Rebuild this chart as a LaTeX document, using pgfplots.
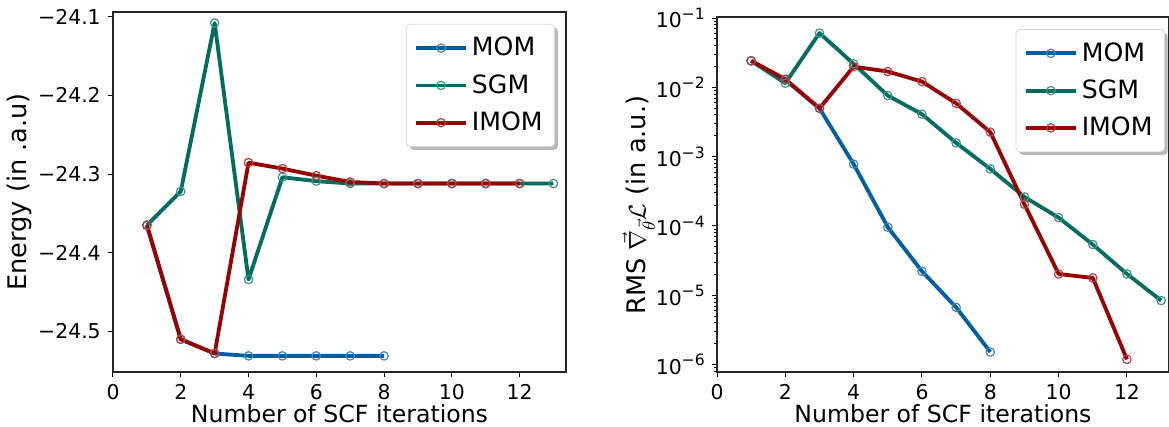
\documentclass[border=0pt]{standalone}
\usepackage{fontspec}
\setmainfont{DejaVu Sans}
\usepackage{pgfplots}
\pgfplotsset{compat=1.18}
\usetikzlibrary{shadows}
\makeatletter
\tikzset{no preactions/.code={\let\tikz@preactions\pgfutil@empty}}
\makeatother
\definecolor{cMOM}{RGB}{0,94,160}
\definecolor{cSGM}{RGB}{0,108,96}
\definecolor{cIMOM}{RGB}{150,0,0}
\newcommand{\tenpow}[1]{10\raisebox{0.42em}{\fontsize{7.8}{8}\selectfont #1}}
\pgfplotsset{
  common/.style={
    scale only axis,
    anchor=south west,
    /pgf/number format/assume math mode=true,
    tick align=outside,
    tick pos=left,
    major tick length=2.6pt,
    minor tick length=1.5pt,
    tick style={black, line width=0.5pt},
    axis line style={black!85, line width=0.6pt},
    ticklabel style={font=\fontsize{10.2}{12}\selectfont},
    xlabel={Number of SCF iterations},
    xtick={0,2,4,6,8,10,12},
    xmin=0,
    legend cell align=left,
    legend image code/.code={\draw[no preactions,mark repeat=2,mark phase=2,##1] plot coordinates {(0pt,0pt) (12.5pt,0pt) (25pt,0pt)};},
    legend style={anchor=north east, draw=black!15, rounded corners=2pt, fill=white,
      font=\fontsize{12.6}{13.5}\selectfont, row sep=3.8pt, inner xsep=4pt, inner ysep=4.5pt,
      drop shadow={shadow xshift=1.6pt, shadow yshift=-1.6pt, fill=black!55}},
  },
  sMOM/.style={color=cMOM, line width=1.9pt, line join=round, mark=o, mark size=2.1pt, mark options={solid, no preactions, draw=cMOM!75!white, fill=cMOM!35!white, line width=0.6pt}},
  sSGM/.style={color=cSGM, line width=1.9pt, line join=round, mark=o, mark size=2.1pt, mark options={solid, no preactions, draw=cSGM!75!white, fill=cSGM!35!white, line width=0.6pt}},
  sIMOM/.style={color=cIMOM, line width=1.9pt, line join=round, mark=o, mark size=2.1pt, mark options={solid, no preactions, draw=cIMOM!75!white, fill=cIMOM!35!white, line width=0.6pt}},
}
\begin{document}
\begin{tikzpicture}
\path[use as bounding box] (0pt,0pt) rectangle (584.5pt,213.5pt);
\begin{axis}[common,
  at={(56.5pt,27.5pt)}, width=226.5pt, height=180pt,
  xmax=13.37, ymin=-24.5515, ymax=-24.094,
  ytick={-24.5,-24.4,-24.3,-24.2,-24.1},
  yticklabels={−24.5,−24.4,−24.3,−24.2,−24.1},
  ylabel={Energy (in .a.u)},
  every axis y label/.style={at={(axis description cs:-0.207,0.5)}, rotate=90, anchor=center, font=\fontsize{12.8}{15}\selectfont},
  every axis x label/.style={at={(axis description cs:0.5,-0.117)}, anchor=center, font=\fontsize{11.8}{14}\selectfont},
  legend style={at={(0.976,0.967)}},
]
\addplot[sMOM] coordinates {(1,-24.365) (2,-24.510) (3,-24.528) (4,-24.531) (5,-24.531) (6,-24.531) (7,-24.531) (8,-24.531)};
\addlegendentry{MOM}
\addplot[sSGM] coordinates {(1,-24.365) (2,-24.322) (3,-24.108) (4,-24.434) (5,-24.304) (6,-24.309) (7,-24.312) (8,-24.312) (9,-24.312) (10,-24.312) (11,-24.312) (12,-24.312) (13,-24.312)};
\addlegendentry{SGM}
\addplot[sIMOM] coordinates {(1,-24.365) (2,-24.510) (3,-24.528) (4,-24.2855) (5,-24.293) (6,-24.302) (7,-24.310) (8,-24.312) (9,-24.312) (10,-24.312) (11,-24.312) (12,-24.312)};
\addlegendentry{IMOM}
\end{axis}
\begin{axis}[common,
  at={(358.5pt,27.5pt)}, width=226pt, height=177.5pt,
  ymode=log, log basis y=10,
  xmax=13.23, ymin=7.83e-7, ymax=0.1034,
  ytick={1e-6,1e-5,1e-4,1e-3,1e-2,1e-1},
  yticklabels={\tenpow{−6},\tenpow{−5},\tenpow{−4},\tenpow{−3},\tenpow{−2},\tenpow{−1}},
  minor ytick={2e-7,3e-7,4e-7,5e-7,6e-7,7e-7,8e-7,9e-7,2e-6,3e-6,4e-6,5e-6,6e-6,7e-6,8e-6,9e-6,2e-5,3e-5,4e-5,5e-5,6e-5,7e-5,8e-5,9e-5,2e-4,3e-4,4e-4,5e-4,6e-4,7e-4,8e-4,9e-4,2e-3,3e-3,4e-3,5e-3,6e-3,7e-3,8e-3,9e-3,2e-2,3e-2,4e-2,5e-2,6e-2,7e-2,8e-2,9e-2},
  ylabel={RMS $\vec{\nabla}_{\vec{\theta}}\mathcal{L}$ (in a.u.)},
  every axis y label/.style={at={(axis description cs:-0.173,0.47)}, rotate=90, anchor=center, font=\fontsize{12.8}{15}\selectfont},
  every axis x label/.style={at={(axis description cs:0.5,-0.118)}, anchor=center, font=\fontsize{11.8}{14}\selectfont},
  legend style={at={(0.991,0.966)}},
]
\addplot[sMOM] coordinates {(1,0.0241) (2,0.0128) (3,0.00498) (4,7.8e-4) (5,9.6e-5) (6,2.22e-5) (7,6.7e-6) (8,1.52e-6)};
\addlegendentry{MOM}
\addplot[sSGM] coordinates {(1,0.0241) (2,0.01146) (3,0.0607) (4,0.0218) (5,0.0076) (6,0.0041) (7,0.00158) (8,6.65e-4) (9,2.62e-4) (10,1.32e-4) (11,5.4e-5) (12,2.03e-5) (13,8.4e-6)};
\addlegendentry{SGM}
\addplot[sIMOM] coordinates {(1,0.0241) (2,0.0131) (3,0.00498) (4,0.0199) (5,0.0169) (6,0.0121) (7,0.00587) (8,0.00226) (9,2.05e-4) (10,2.03e-5) (11,1.78e-5) (12,1.19e-6)};
\addlegendentry{IMOM}
\end{axis}
\end{tikzpicture}
\end{document}
